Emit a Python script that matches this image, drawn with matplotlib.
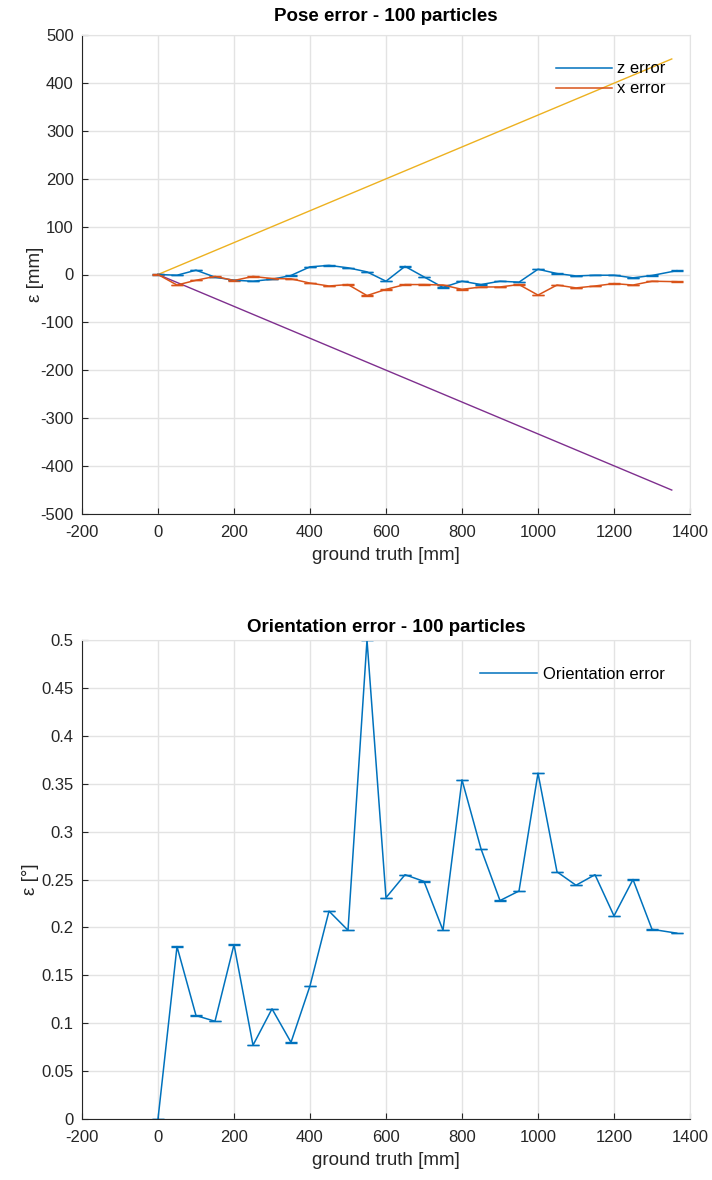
import matplotlib.pyplot as plt
from matplotlib.ticker import FuncFormatter
import numpy as np

# ground truth positions [mm]
gt = [0, 50, 100, 150, 200, 250, 300, 350, 400, 450, 500, 550, 600, 650,
      700, 750, 800, 850, 900, 950, 1000, 1050, 1100, 1150, 1200, 1250, 1300, 1365]

z_err = [0, -1.5, 9, -5.5, -12, -14, -10, -2, 16, 19, 14, 5.5, -14, 17,
         -5, -27, -14, -21, -14, -16, 11, 2, -3, -1.5, -1.5, -7, -2, 8]
x_err = [0, -22, -12, -4, -12.5, -4, -8.5, -9, -18, -24, -21, -44, -31, -21,
         -21, -22, -31, -26, -26, -21, -43, -22, -28, -24, -19, -22, -14, -15]
z_std = [0.4] * 28
x_std = [0.4] * 28

# bound lines
bound_x = [0, 1352]
upper = [0, 450]
lower = [0, -450]

orient_err = [0, 0.180, 0.108, 0.102, 0.182, 0.077, 0.115, 0.080, 0.139, 0.217,
              0.197, 0.500, 0.231, 0.255, 0.248, 0.197, 0.354, 0.282, 0.228, 0.238,
              0.361, 0.258, 0.244, 0.255, 0.212, 0.250, 0.198, 0.194]
orient_std = [0.0002] * 28

BLUE = '#0072BD'
ORANGE = '#D95319'
YELLOW = '#EDB120'
PURPLE = '#7E2F8E'
DARK = '#262626'
GRID = '#e3e3e3'

plt.rcParams['font.family'] = ['Liberation Sans', 'DejaVu Sans']
plt.rcParams['font.size'] = 12
plt.rcParams['axes.unicode_minus'] = False

fig = plt.figure(figsize=(7.12, 11.8), dpi=100)
ax1 = fig.add_axes([82/712, 1-514/1180, 608/712, 479/1180])
ax2 = fig.add_axes([82/712, 1-1119/1180, 608/712, 479/1180])


def style(ax):
    ax.grid(True, color=GRID, linewidth=1)
    ax.set_axisbelow(True)
    for s in ['top', 'right']:
        ax.spines[s].set_color(GRID)
    for s in ['bottom', 'left']:
        ax.spines[s].set_color(DARK)
    ax.tick_params(direction='in', length=4, colors=DARK, labelsize=12)
    ax.tick_params(axis='x', pad=8)
    ax.tick_params(axis='y', pad=6)
    ax.set_xlim(-200, 1400)
    ax.set_xticks(np.arange(-200, 1401, 200))
    ax.set_xlabel('ground truth [mm]', fontsize=13.5, color=DARK, labelpad=5)


# ---- pose error
ax1.plot(bound_x, upper, color=YELLOW, lw=1)
ax1.plot(bound_x, lower, color=PURPLE, lw=1)
ax1.errorbar(gt, z_err, yerr=z_std, color=BLUE, lw=1.1, capsize=4, capthick=1, label='z error')
ax1.errorbar(gt, x_err, yerr=x_std, color=ORANGE, lw=1.1, capsize=4, capthick=1, label='x error')
style(ax1)
ax1.set_ylim(-500, 500)
ax1.set_yticks(np.arange(-500, 501, 100))
ax1.set_ylabel('ε [mm]', fontsize=13.5, color=DARK)
ax1.yaxis.set_label_coords(-0.062, 0.5)
ax1.set_title('Pose error - 100 particles', fontsize=13.5, fontweight='bold', color='black', pad=10)
h, l = ax1.get_legend_handles_labels()
h = [x[0] for x in h]
ax1.legend(h, l, loc='upper right', frameon=False, fontsize=12, handlelength=3.4,
           handletextpad=0.3, labelspacing=0.3, bbox_to_anchor=(0.985, 0.976))

# ---- orientation error
ax2.errorbar(gt, orient_err, yerr=orient_std, color=BLUE, lw=1.1, capsize=4, capthick=1,
             label='Orientation error')
style(ax2)
ax2.set_ylim(0, 0.5)
ax2.set_yticks(np.arange(0, 0.501, 0.05))
ax2.yaxis.set_major_formatter(FuncFormatter(lambda v, p: '%g' % round(v, 2)))
ax2.set_ylabel('ε [°]', fontsize=13.5, color=DARK)
ax2.yaxis.set_label_coords(-0.071, 0.5)
ax2.set_title('Orientation error - 100 particles', fontsize=13.5, fontweight='bold', color='black', pad=5.5)
h, l = ax2.get_legend_handles_labels()
h = [x[0] for x in h]
ax2.legend(h, l, loc='upper right', frameon=False, fontsize=12, handlelength=3.4,
           handletextpad=0.36, bbox_to_anchor=(0.983, 0.975))

fig.savefig('out.png', dpi=100)
